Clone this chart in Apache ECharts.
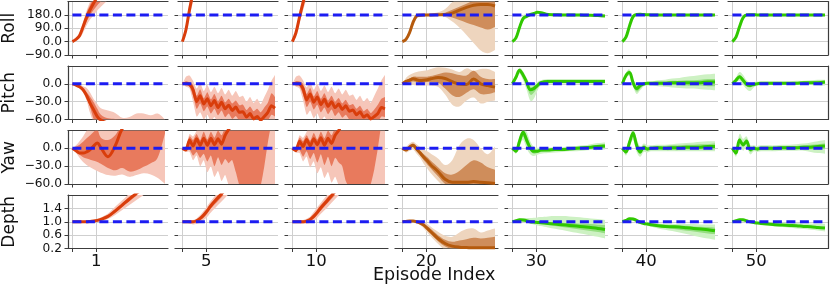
<!DOCTYPE html>
<html><head><meta charset="utf-8">
<script src="https://cdn.jsdelivr.net/npm/echarts@6/dist/echarts.min.js"></script>
<style>html,body{margin:0;padding:0;background:#fff}#c{width:830px;height:289px}</style>
</head><body><div id="c"></div>
<script>
// ---------- axes / categories ----------
const XS_C = [0,1.5,3,4.5,6,7.5,9,10.5,12,15,18,21,24,27,30,33,36,39];
const XS_F = [0,1.5,3,4.5,6,7.5,9,10.5,12,13.5,15,16.5,18,19.5,21,22.5,24,25.5,27,28.5,30,31.5,33,34.5,36,37.5,39];
const X_TICKS = [0, 10];
const EPISODES = ['1','5','10','20','30','40','50'];
const ROWS = ['Roll','Pitch','Yaw','Depth'];
const Y_RANGES = [[-90,270],[-60,30],[-60,30],[0.2,1.8]];
const Y_STEP = [90,30,30,0.4];
const Y_TICKS = [[-90,0,90,180],[-60,-30,0],[-60,-30,0],[0.2,0.6,1.0,1.4]];
const REFS = [180, 0, 0, 1.0];
const COL_KIND = ['red','red','red','brown','green','green','green'];

// ---------- Roll ----------
const roll_1_mean=[0,15,40,100,165,215,260,300,340,400,500,500,500,500,500,500,500,500];
const roll_1_il=[0,10,32,80,135,180,215,245,270,320,400,500,500,500,500,500,500,500];
const roll_1_ih=[0,18,52,120,195,250,295,340,380,500,500,500,500,500,500,500,500,500];
const roll_1_ol=[0,6,22,60,110,150,180,210,235,280,330,400,500,500,500,500,500,500];
const roll_1_oh=[0,22,62,135,210,270,320,380,420,500,500,500,500,500,500,500,500,500];
const roll_2_mean=[0,80,215,330,430,520,600,600,600,600,600,600,600,600,600,600,600,600];
const roll_2_il=[0,65,190,300,400,500,600,600,600,600,600,600,600,600,600,600,600,600];
const roll_2_ih=[0,95,240,360,460,600,600,600,600,600,600,600,600,600,600,600,600,600];
const roll_2_ol=[0,50,165,270,370,460,600,600,600,600,600,600,600,600,600,600,600,600];
const roll_2_oh=[0,110,265,390,490,600,600,600,600,600,600,600,600,600,600,600,600,600];
const roll_3_mean=[0,60,165,262,350,440,520,600,600,600,600,600,600,600,600,600,600,600];
const roll_3_il=[0,48,145,235,320,400,480,600,600,600,600,600,600,600,600,600,600,600];
const roll_3_ih=[0,72,185,290,380,480,600,600,600,600,600,600,600,600,600,600,600,600];
const roll_3_ol=[0,38,125,210,290,370,450,600,600,600,600,600,600,600,600,600,600,600];
const roll_3_oh=[0,85,205,320,410,520,600,600,600,600,600,600,600,600,600,600,600,600];
const roll_4_mean=[0,15,60,130,172,178,180,180,180,181,182,192,212,230,245,250,250,240];
const roll_4_il=[0,10,50,118,164,173,176,177,177,177,176,162,145,127,112,95,82,99];
const roll_4_ih=[0,20,70,142,180,183,184,184,184,186,195,215,235,255,275,290,290,285];
const roll_4_ol=[0,5,40,105,155,166,170,171,172,172,165,135,95,45,-10,-60,-78,-57];
const roll_4_oh=[0,25,80,155,188,188,188,189,190,198,220,265,290,300,300,300,300,300];
const roll_5_mean=[0,25,95,155,170,182,189,197,195,182,181,180,180,179,178,177,175,173];
const roll_5_il=[0,18,85,145,164,177,184,192,190,178,177,176,176,175,174,173,171,169];
const roll_5_ih=[0,32,105,165,176,187,194,202,200,186,185,184,184,183,182,181,179,177];
const roll_5_ol=[0,12,75,135,158,172,180,188,186,174,173,172,172,171,170,169,166,164];
const roll_5_oh=[0,40,115,175,182,192,198,206,204,190,189,188,188,187,186,185,184,182];
const roll_6_mean=[0,30,105,168,183,184,182,181,180,180,180,180,180,180,180,180,180,179];
const roll_6_il=[0,22,95,160,179,180,179,178,177,177,177,177,177,177,177,177,177,176];
const roll_6_ih=[0,38,115,176,187,188,185,184,183,183,183,183,183,183,183,183,183,182];
const roll_6_ol=[0,15,85,150,175,177,176,175,174,174,174,174,174,174,174,174,174,173];
const roll_6_oh=[0,45,125,184,191,191,188,187,186,186,186,186,186,186,186,186,186,185];
const roll_7_mean=[0,30,100,160,180,181,181,180,180,180,180,180,180,180,180,180,180,180];
const roll_7_il=[0,23,90,152,176,178,178,177,177,177,177,177,177,177,177,177,177,177];
const roll_7_ih=[0,37,110,168,184,184,184,183,183,183,183,183,183,183,183,183,183,183];
const roll_7_ol=[0,16,80,144,172,175,175,174,174,174,174,174,174,174,174,174,174,174];
const roll_7_oh=[0,44,120,176,188,187,187,186,186,186,186,186,186,186,186,186,186,186];

// ---------- Pitch ----------
const pitch_1_mean=[0,-2,-5,-10,-20,-33,-44,-55,-61,-66,-68,-70,-70,-70,-70,-70,-70,-70];
const pitch_1_il=[0,-3,-6,-11,-22,-40,-60,-68,-70,-70,-70,-70,-70,-70,-70,-70,-70,-70];
const pitch_1_ih=[0,-1,-3,-9,-14,-22,-31,-42,-52,-58,-59,-61,-64,-64,-64,-64,-64,-64];
const pitch_1_ol=[0,-4,-7,-14,-28,-50,-65,-70,-70,-70,-70,-70,-70,-70,-70,-70,-70,-70];
const pitch_1_oh=[0,0,-1,-4,-7,-15,-26,-34,-41,-45,-49,-57,-56,-50,-50,-53,-50,-60];
const pitch_2_mean=[0,1,-1,-10,-30,-20,-34,-25,-37,-28,-40,-31,-42,-36,-45,-39,-48,-47,-56,-50,-59,-55,-61,-55,-48,-37,-41];
const pitch_2_il=[0,-3,-5,-20,-42,-33,-46,-38,-50,-42,-53,-45,-56,-50,-59,-54,-62,-62,-70,-66,-72,-70,-75,-70,-62,-52,-55];
const pitch_2_ih=[0,4,3,-2,-20,-9,-24,-14,-26,-17,-29,-20,-31,-25,-33,-28,-36,-35,-44,-38,-46,-42,-48,-40,-32,-16,-22];
const pitch_2_ol=[0,-5,-8,-30,-55,-48,-60,-52,-63,-56,-66,-60,-70,-70,-70,-70,-70,-70,-70,-70,-70,-70,-70,-70,-70,-70,-70];
const pitch_2_oh=[0,12,14,5,-8,2,-12,-2,-14,-5,-16,-7,-18,-10,-20,-12,-22,-20,-30,-22,-32,-25,-34,-22,-10,5,15];
const pitch_3_mean=[0,1,0,-8,-27,-17,-31,-22,-35,-26,-38,-30,-40,-34,-43,-37,-46,-44,-52,-47,-56,-52,-59,-55,-50,-40,-42];
const pitch_3_il=[0,-3,-4,-18,-39,-30,-43,-35,-48,-40,-51,-43,-54,-48,-57,-52,-60,-60,-66,-62,-70,-68,-72,-70,-64,-55,-56];
const pitch_3_ih=[0,4,4,0,-17,-7,-21,-12,-25,-16,-28,-20,-30,-24,-33,-27,-36,-34,-42,-37,-46,-42,-49,-43,-35,-25,-22];
const pitch_3_ol=[0,-5,-8,-28,-52,-45,-58,-50,-62,-55,-65,-58,-70,-70,-70,-70,-70,-70,-70,-70,-70,-70,-70,-70,-70,-70,-70];
const pitch_3_oh=[0,12,14,6,-6,4,-10,0,-12,-3,-14,-5,-16,-8,-18,-10,-20,-18,-27,-20,-30,-24,-32,-20,-8,6,15];
const pitch_4_mean=[0,4,6,8.5,7,5.5,6,7,8.5,10.5,9,3.5,-0.5,-1,8,0,-3,-5.5];
const pitch_4_il=[0,2,3,4,3,2,2,3,3,2,-8,-19,-22,-15,-9,-17,-17,-14];
const pitch_4_ih=[0,6,9,12,12,12,12,12,13,16,19,18,15,14,22,12,8,8];
const pitch_4_ol=[0,-1,-1,-2,-3,-3,-3,-3,-3,-5,-18,-35,-38,-28,-23,-33,-30,-28];
const pitch_4_oh=[0,10,15,18,20,21,22,23,25,28,27,24,20,26,22,25,25,20];
const pitch_5_mean=[0,11,23,15,3,-10,-8,-3,2,4,4,4,4,4,4,4,4,4];
const pitch_5_il=[0,9,20,11,-3,-18,-15,-7,0,2,2,2,2,2,2,2,2,2];
const pitch_5_ih=[0,13,25,18,7,-5,-4,0,4,6,6,6,6,6,6,6,6,6];
const pitch_5_ol=[0,7,17,6,-10,-28,-25,-12,-3,0,0,0,0,0,0,0,0,0];
const pitch_5_oh=[0,15,27,21,10,-1,0,3,6,8,8,8,8,8,8,8,8,8];
const pitch_6_mean=[0,14,19,2,-8,-3,0,1,1,1,1,2,2,2,2,2,3,3];
const pitch_6_il=[0,11,16,-2,-13,-8,-2,-1,-1,-1,-2,-2,-2,-3,-3,-3,-4,-4];
const pitch_6_ih=[0,16,22,6,-4,0,2,3,3,4,4,5,5,6,6,7,8,8];
const pitch_6_ol=[0,9,13,-5,-17,-11,-4,-3,-3,-4,-5,-6,-7,-8,-8,-9,-10,-11];
const pitch_6_oh=[0,18,24,9,-1,3,3,4,4,6,7,9,10,12,13,15,16,17];
const pitch_7_mean=[0,6,12,6,-1,-3,-1,0,1,1,1,1,1,1,2,2,2,3];
const pitch_7_il=[0,4,9,2,-4,-6,-3,-1,-1,-1,-1,-1,-1,-1,0,0,0,0];
const pitch_7_ih=[0,8,15,10,2,-1,1,2,3,3,3,3,3,3,4,4,5,5];
const pitch_7_ol=[0,2,5,-2,-9,-12,-6,-3,-2,-2,-2,-2,-2,-2,-2,-2,-3,-3];
const pitch_7_oh=[0,11,20,15,6,2,3,4,4,4,4,4,4,5,5,6,7,7];

// ---------- Yaw ----------
const yaw_1_mean=[0,-4,-8,-8,-6,-2,4,9,1,-14,4,33,45,45,45,45,45,45];
const yaw_1_il=[0,-5,-11,-15,-17,-19,-21,-23,-26,-33,-37,-33,-39,-37,-31,-25,-15,25];
const yaw_1_ih=[0,3,6,11,17,22,28,32,18,14,22,40,40,40,40,40,40,40];
const yaw_1_ol=[0,-7,-16,-23,-28,-32,-35,-38,-41,-45,-46,-44,-48,-45,-42,-44,-50,-60];
const yaw_1_oh=[0,5,12,20,30,40,40,40,40,40,40,40,40,40,40,40,40,40];
const yaw_2_mean=[0,-3,14,4,16,5,17,5,17,6,16,7,22,32,40,40,40,40,40,40,40,40,40,40,40,40,40];
const yaw_2_il=[0,-4,-2,-12,-6,-16,-9,-22,-12,-30,-15,-28,-18,-25,-20,-40,-62,-65,-65,-65,-65,-65,-62,-30,10,40,40];
const yaw_2_ih=[0,2,20,14,24,14,28,15,28,18,30,22,35,45,45,45,45,45,45,45,45,45,45,45,45,45,45];
const yaw_2_ol=[0,-6,-6,-20,-12,-30,-20,-40,-30,-48,-38,-55,-45,-62,-70,-70,-70,-70,-70,-70,-70,-70,-70,-70,-70,-70,-70];
const yaw_2_oh=[0,4,24,20,30,45,45,45,45,45,45,45,45,45,45,45,45,45,45,45,45,45,45,45,45,45,45];
const yaw_3_mean=[0,-4,12,3,15,4,16,6,18,5,17,8,22,30,40,40,40,40,40,40,40,40,40,40,40,40,40];
const yaw_3_il=[0,-5,-3,-14,-5,-18,-8,-24,-10,-28,-14,-30,-16,-24,-30,-55,-65,-65,-65,-65,-65,-65,-60,-35,0,40,40];
const yaw_3_ih=[0,2,18,12,22,13,26,15,28,17,30,22,35,45,45,45,45,45,45,45,45,45,45,45,45,45,45];
const yaw_3_ol=[0,-7,-8,-22,-14,-32,-22,-42,-32,-50,-40,-58,-48,-62,-70,-70,-70,-70,-70,-70,-70,-70,-70,-70,-70,-70,-70];
const yaw_3_oh=[0,4,22,18,28,45,45,45,45,45,45,45,45,45,45,45,45,45,45,45,45,45,45,45,45,45,45];
const yaw_4_mean=[0,-3,2,5,-1,-8,-15,-21,-28,-39,-52,-57,-57,-57,-56,-57,-58,-59];
const yaw_4_il=[0,-5,-1,2,-5,-12,-20,-27,-34,-47,-60,-66,-68,-68,-68,-68,-68,-68];
const yaw_4_ih=[0,-1,5,8,3,-4,-10,-15,-21,-32,-42,-44,-38,-28,-20,-24,-32,-36];
const yaw_4_ol=[0,-7,-4,-2,-9,-16,-26,-34,-42,-55,-66,-70,-70,-70,-70,-70,-70,-70];
const yaw_4_oh=[0,2,8,11,7,2,-2,-5,-9,-17,-28,-20,5,16,14,0,-10,3];
const yaw_5_mean=[0,-5,12,27,14,1,-5,-5,-3,-3,-2,-2,-1,0,1,2,3,4];
const yaw_5_il=[0,-7,8,20,6,-4,-9,-8,-6,-5,-4,-4,-3,-3,-2,-1,0,0];
const yaw_5_ih=[0,-3,16,30,22,6,-1,-2,-1,-1,0,0,1,2,3,4,6,7];
const yaw_5_ol=[0,-9,4,14,0,-10,-13,-11,-9,-8,-7,-6,-5,-5,-4,-3,-3,-2];
const yaw_5_oh=[0,-1,20,33,28,12,3,1,1,1,2,2,3,4,5,7,9,10];
const yaw_6_mean=[0,-6,10,26,5,-6,2,-1,0,1,0,1,1,2,2,2,3,3];
const yaw_6_il=[0,-9,6,20,-1,-10,-2,-4,-3,-2,-3,-3,-3,-2,-2,-2,-2,-2];
const yaw_6_ih=[0,-3,14,30,11,-1,5,2,3,4,4,5,5,6,6,7,7,8];
const yaw_6_ol=[0,-12,2,14,-6,-14,-6,-7,-5,-5,-5,-5,-5,-5,-5,-5,-5,-5];
const yaw_6_oh=[0,0,18,33,16,3,8,5,5,6,6,7,8,9,10,11,12,12];
const yaw_7_mean=[0,-8,14,6,12,-2,0,-1,0,0,0,1,1,1,2,2,3,4];
const yaw_7_il=[0,-11,10,2,8,-6,-3,-4,-3,-3,-3,-2,-2,-2,-1,-2,-2,-1];
const yaw_7_ih=[0,-5,18,10,16,2,3,2,3,3,3,4,4,4,5,6,7,8];
const yaw_7_ol=[0,-14,4,-4,2,-10,-5,-6,-5,-5,-5,-4,-4,-4,-4,-6,-8,-9];
const yaw_7_oh=[0,-2,24,16,20,6,5,4,5,5,5,6,6,7,8,10,12,14];

// ---------- Depth ----------
const depth_1_mean=[1.0,1.0,1.0,1.0,1.0,1.01,1.02,1.04,1.07,1.16,1.32,1.5,1.68,1.85,2.0,2.2,2.4,2.6];
const depth_1_il=[1.0,1.0,1.0,1.0,1.0,1.0,1.01,1.02,1.05,1.13,1.27,1.44,1.61,1.78,1.93,2.1,2.3,2.5];
const depth_1_ih=[1.0,1.0,1.0,1.0,1.01,1.02,1.04,1.06,1.1,1.2,1.38,1.56,1.75,1.92,2.1,2.3,2.5,2.7];
const depth_1_ol=[1.0,1.0,0.99,0.99,0.99,0.99,0.99,1.0,1.02,1.08,1.2,1.35,1.5,1.65,1.8,1.95,2.1,2.3];
const depth_1_oh=[1.0,1.0,1.01,1.02,1.03,1.04,1.06,1.09,1.13,1.25,1.45,1.64,1.84,2.0,2.2,2.4,2.6,2.8];
const depth_2_mean=[1.0,1.0,1.0,1.0,1.03,1.1,1.2,1.33,1.48,1.72,1.95,2.15,2.3,2.5,2.5,2.5,2.5,2.5];
const depth_2_il=[1.0,0.99,0.98,0.97,0.99,1.05,1.13,1.25,1.4,1.62,1.85,2.05,2.2,2.4,2.4,2.4,2.4,2.4];
const depth_2_ih=[1.0,1.01,1.02,1.03,1.07,1.15,1.27,1.4,1.55,1.8,2.0,2.2,2.4,2.6,2.6,2.6,2.6,2.6];
const depth_2_ol=[1.0,0.98,0.95,0.92,0.94,0.98,1.05,1.15,1.28,1.5,1.72,1.92,2.1,2.3,2.3,2.3,2.3,2.3];
const depth_2_oh=[1.0,1.02,1.03,1.05,1.1,1.2,1.33,1.47,1.62,1.88,2.1,2.3,2.5,2.7,2.7,2.7,2.7,2.7];
const depth_3_mean=[1.0,1.0,1.0,1.0,1.02,1.07,1.16,1.28,1.42,1.66,1.9,2.1,2.3,2.5,2.5,2.5,2.5,2.5];
const depth_3_il=[1.0,0.99,0.98,0.98,0.99,1.03,1.1,1.21,1.34,1.57,1.8,2.0,2.2,2.4,2.4,2.4,2.4,2.4];
const depth_3_ih=[1.0,1.01,1.02,1.03,1.06,1.12,1.23,1.36,1.5,1.75,1.98,2.2,2.4,2.6,2.6,2.6,2.6,2.6];
const depth_3_ol=[1.0,0.98,0.96,0.94,0.95,0.97,1.02,1.12,1.24,1.45,1.68,1.9,2.1,2.3,2.3,2.3,2.3,2.3];
const depth_3_oh=[1.0,1.02,1.04,1.05,1.09,1.16,1.29,1.43,1.57,1.83,2.05,2.3,2.5,2.7,2.7,2.7,2.7,2.7];
const depth_4_mean=[1.0,1.01,1.02,1.02,1.0,0.96,0.9,0.8,0.7,0.5,0.35,0.27,0.24,0.23,0.22,0.22,0.22,0.22];
const depth_4_il=[1.0,1.0,1.01,1.01,0.98,0.93,0.85,0.74,0.63,0.42,0.26,0.18,0.15,0.14,0.14,0.14,0.14,0.14];
const depth_4_ih=[1.0,1.02,1.03,1.03,1.02,0.99,0.95,0.87,0.78,0.6,0.46,0.4,0.44,0.48,0.52,0.5,0.52,0.55];
const depth_4_ol=[1.0,0.99,0.99,0.99,0.96,0.9,0.8,0.68,0.56,0.34,0.15,0.1,0.1,0.1,0.1,0.1,0.1,0.1];
const depth_4_oh=[1.0,1.03,1.05,1.05,1.04,1.02,0.99,0.93,0.85,0.7,0.58,0.55,0.68,0.78,0.8,0.68,0.74,0.8];
const depth_5_mean=[1.0,1.03,1.06,1.05,1.03,1.0,0.99,0.98,0.97,0.95,0.93,0.91,0.89,0.87,0.85,0.83,0.8,0.77];
const depth_5_il=[1.0,1.02,1.04,1.03,1.01,0.98,0.96,0.94,0.93,0.9,0.87,0.84,0.81,0.78,0.75,0.72,0.69,0.65];
const depth_5_ih=[1.0,1.04,1.08,1.07,1.05,1.03,1.02,1.01,1.0,0.99,0.98,0.97,0.96,0.95,0.94,0.93,0.91,0.9];
const depth_5_ol=[1.0,1.01,1.02,1.0,0.98,0.95,0.92,0.89,0.87,0.83,0.79,0.75,0.71,0.67,0.63,0.59,0.55,0.5];
const depth_5_oh=[1.0,1.05,1.1,1.11,1.11,1.11,1.12,1.13,1.14,1.16,1.17,1.17,1.16,1.14,1.12,1.1,1.08,1.05];
const depth_6_mean=[1.0,1.04,1.09,1.08,1.04,0.98,0.95,0.93,0.91,0.88,0.86,0.85,0.84,0.82,0.8,0.78,0.76,0.73];
const depth_6_il=[1.0,1.03,1.07,1.06,1.01,0.96,0.93,0.9,0.88,0.84,0.81,0.79,0.76,0.73,0.71,0.68,0.65,0.63];
const depth_6_ih=[1.0,1.05,1.11,1.1,1.06,1.0,0.98,0.96,0.95,0.92,0.91,0.9,0.89,0.88,0.86,0.85,0.84,0.82];
const depth_6_ol=[1.0,1.02,1.05,1.03,0.98,0.93,0.9,0.87,0.85,0.8,0.76,0.72,0.68,0.63,0.58,0.54,0.5,0.46];
const depth_6_oh=[1.0,1.06,1.12,1.12,1.08,1.02,1.0,0.98,0.97,0.95,0.94,0.94,0.93,0.93,0.93,0.92,0.92,0.92];
const depth_7_mean=[1.0,1.03,1.06,1.06,1.03,1.0,0.98,0.96,0.95,0.93,0.91,0.9,0.89,0.88,0.86,0.85,0.83,0.81];
const depth_7_il=[1.0,1.02,1.05,1.05,1.02,0.99,0.97,0.95,0.94,0.91,0.89,0.88,0.87,0.86,0.84,0.82,0.8,0.78];
const depth_7_ih=[1.0,1.04,1.07,1.07,1.04,1.01,0.99,0.97,0.96,0.95,0.93,0.92,0.91,0.9,0.89,0.88,0.86,0.84];
const depth_7_ol=[1.0,1.01,1.03,1.03,1.0,0.97,0.95,0.93,0.91,0.88,0.86,0.84,0.82,0.8,0.78,0.76,0.74,0.71];
const depth_7_oh=[1.0,1.05,1.1,1.09,1.06,1.03,1.01,1.0,0.99,0.98,0.97,0.97,0.96,0.96,0.95,0.95,0.94,0.94];

// ---------- assemble (mean, inner lo, inner hi, outer lo, outer hi) ----------
const PANELS = [
  [[roll_1_mean,roll_1_il,roll_1_ih,roll_1_ol,roll_1_oh],[roll_2_mean,roll_2_il,roll_2_ih,roll_2_ol,roll_2_oh],[roll_3_mean,roll_3_il,roll_3_ih,roll_3_ol,roll_3_oh],[roll_4_mean,roll_4_il,roll_4_ih,roll_4_ol,roll_4_oh],[roll_5_mean,roll_5_il,roll_5_ih,roll_5_ol,roll_5_oh],[roll_6_mean,roll_6_il,roll_6_ih,roll_6_ol,roll_6_oh],[roll_7_mean,roll_7_il,roll_7_ih,roll_7_ol,roll_7_oh]],
  [[pitch_1_mean,pitch_1_il,pitch_1_ih,pitch_1_ol,pitch_1_oh],[pitch_2_mean,pitch_2_il,pitch_2_ih,pitch_2_ol,pitch_2_oh],[pitch_3_mean,pitch_3_il,pitch_3_ih,pitch_3_ol,pitch_3_oh],[pitch_4_mean,pitch_4_il,pitch_4_ih,pitch_4_ol,pitch_4_oh],[pitch_5_mean,pitch_5_il,pitch_5_ih,pitch_5_ol,pitch_5_oh],[pitch_6_mean,pitch_6_il,pitch_6_ih,pitch_6_ol,pitch_6_oh],[pitch_7_mean,pitch_7_il,pitch_7_ih,pitch_7_ol,pitch_7_oh]],
  [[yaw_1_mean,yaw_1_il,yaw_1_ih,yaw_1_ol,yaw_1_oh],[yaw_2_mean,yaw_2_il,yaw_2_ih,yaw_2_ol,yaw_2_oh],[yaw_3_mean,yaw_3_il,yaw_3_ih,yaw_3_ol,yaw_3_oh],[yaw_4_mean,yaw_4_il,yaw_4_ih,yaw_4_ol,yaw_4_oh],[yaw_5_mean,yaw_5_il,yaw_5_ih,yaw_5_ol,yaw_5_oh],[yaw_6_mean,yaw_6_il,yaw_6_ih,yaw_6_ol,yaw_6_oh],[yaw_7_mean,yaw_7_il,yaw_7_ih,yaw_7_ol,yaw_7_oh]],
  [[depth_1_mean,depth_1_il,depth_1_ih,depth_1_ol,depth_1_oh],[depth_2_mean,depth_2_il,depth_2_ih,depth_2_ol,depth_2_oh],[depth_3_mean,depth_3_il,depth_3_ih,depth_3_ol,depth_3_oh],[depth_4_mean,depth_4_il,depth_4_ih,depth_4_ol,depth_4_oh],[depth_5_mean,depth_5_il,depth_5_ih,depth_5_ol,depth_5_oh],[depth_6_mean,depth_6_il,depth_6_ih,depth_6_ol,depth_6_oh],[depth_7_mean,depth_7_il,depth_7_ih,depth_7_ol,depth_7_oh]]
];

// ---------- styling ----------
const FONT = 'DejaVu Sans';
const TEXT = '#111';
const SPINE = '#3c3c3c';
const GRIDC = '#cfcfcf';
const BLUE = '#1c1cf2';
const COLORS = {
  red:   {line:'#d93d0b', inner:'#e87a5d', outer:'#f6c6b9'},
  brown: {line:'#b55a0d', inner:'#cf8d5b', outer:'#eed5be'},
  green: {line:'#30c800', inner:'#95de80', outer:'#cdf1c3'}
};
const L0 = 68, COLW = 100, COLSTEP = 110, T0 = 1.5, ROWH = 53.5, ROWSTEP = 64.5;
const XMIN = -1.85, XMAX = 40.27;
const fmtY = v => { const s = (+v).toFixed(1); return s.charAt(0) === '-' ? '\u2212' + s.slice(1) : s; };

// smooth cubic segments through pixel points (used for band outlines)
function curveSegs(p, t) {
  let s = '';
  for (let i = 0; i < p.length - 1; i++) {
    const p0 = p[Math.max(i - 1, 0)], p1 = p[i], p2 = p[i + 1], p3 = p[Math.min(i + 2, p.length - 1)];
    const c1x = p1[0] + (p2[0] - p0[0]) * t, c1y = p1[1] + (p2[1] - p0[1]) * t;
    const c2x = p2[0] - (p3[0] - p1[0]) * t, c2y = p2[1] - (p3[1] - p1[1]) * t;
    s += ' C' + c1x.toFixed(2) + ',' + c1y.toFixed(2) + ' ' + c2x.toFixed(2) + ',' + c2y.toFixed(2) + ' ' + p2[0].toFixed(2) + ',' + p2[1].toFixed(2);
  }
  return s;
}
function bandSeries(g, xs, lo, hi, color, t, z) {
  return {
    type: 'custom', xAxisIndex: g, yAxisIndex: g, silent: true, animation: false, clip: true, z: z,
    data: [[xs[0], lo[0]]],
    renderItem: (params, api) => {
      const top = xs.map((x, i) => api.coord([x, hi[i]]));
      const bot = xs.map((x, i) => api.coord([x, lo[i]])).reverse();
      const d = 'M' + top[0][0] + ',' + top[0][1] + curveSegs(top, t) +
                ' L' + bot[0][0] + ',' + bot[0][1] + curveSegs(bot, t) + ' Z';
      const cs = params.coordSys;
      return {
        type: 'group',
        clipPath: {type: 'rect', shape: {x: cs.x, y: cs.y, width: cs.width, height: cs.height}},
        children: [{type: 'path', shape: {pathData: d}, style: {fill: color, stroke: null}}]
      };
    }
  };
}

const grids = [], xBottom = [], xTop = [], yLeft = [], yRight = [], series = [];
for (let r = 0; r < 4; r++) {
  for (let c = 0; c < 7; c++) {
    const g = r * 7 + c;
    grids.push({left: L0 + COLSTEP * c, top: T0 + ROWSTEP * r, width: COLW, height: ROWH});
    xBottom.push({
      gridIndex: g, type: 'value', min: XMIN, max: XMAX, position: 'bottom',
      axisLine: {show: true, onZero: false, lineStyle: {color: SPINE, width: 1.2}},
      axisTick: {show: true, customValues: X_TICKS, length: 3.5, lineStyle: {color: SPINE, width: 1}},
      axisLabel: {show: r === 3, customValues: [10], formatter: () => EPISODES[c],
                  fontSize: 16.5, margin: 5, color: TEXT, fontFamily: FONT},
      splitLine: {show: true, lineStyle: {color: GRIDC, width: 1}}
    });
    xTop.push({
      gridIndex: g, type: 'value', min: XMIN, max: XMAX, position: 'top',
      axisLine: {show: true, onZero: false, lineStyle: {color: SPINE, width: 1.2}},
      axisTick: {show: false}, axisLabel: {show: false}, splitLine: {show: false}
    });
    yLeft.push({
      gridIndex: g, type: 'value', min: Y_RANGES[r][0], max: Y_RANGES[r][1], interval: Y_STEP[r],
      position: 'left',
      name: c === 0 ? ROWS[r] : '', nameLocation: 'middle', nameGap: 50,
      nameTextStyle: {fontSize: 17, color: TEXT, fontFamily: FONT},
      axisLine: {show: c === 0, onZero: false, lineStyle: {color: SPINE, width: 1.2}},
      axisTick: {show: true, customValues: Y_TICKS[r], length: 3.5, lineStyle: {color: SPINE, width: 1}},
      axisLabel: {show: c === 0, customValues: Y_TICKS[r], formatter: fmtY, fontSize: 12.2, margin: 6,
                  color: TEXT, fontFamily: FONT},
      splitLine: {show: true, lineStyle: {color: GRIDC, width: 1}}
    });
    if (c === 6) {
      yRight.push({
        gridIndex: g, type: 'value', min: Y_RANGES[r][0], max: Y_RANGES[r][1], position: 'right',
        axisLine: {show: true, onZero: false, lineStyle: {color: SPINE, width: 1.2}},
        axisTick: {show: false}, axisLabel: {show: false}, splitLine: {show: false}
      });
    }
    const fine = (r === 1 || r === 2) && (c === 1 || c === 2);
    const xs = fine ? XS_F : XS_C;
    const [m, il, ih, ol, oh] = PANELS[r][c];
    const col = COLORS[COL_KIND[c]];
    const sm = fine ? 0.2 : 0.35;
    series.push(bandSeries(g, xs, ol, oh, col.outer, sm / 2, 1));
    series.push(bandSeries(g, xs, il, ih, col.inner, sm / 2, 2));
    series.push({type: 'line', xAxisIndex: g, yAxisIndex: g, symbol: 'none', smooth: sm, silent: true,
      animation: false, clip: true, data: xs.map((x, i) => [x, m[i]]),
      lineStyle: {color: col.line, width: 3}, z: 3});
    series.push({type: 'line', xAxisIndex: g, yAxisIndex: g, symbol: 'none', silent: true,
      animation: false, clip: true, data: [[xs[0], REFS[r]], [xs[xs.length - 1], REFS[r]]],
      lineStyle: {color: BLUE, width: 3, type: [9, 4.5]}, z: 4});
  }
}

const chart = echarts.init(document.getElementById('c'), null, {renderer: 'canvas'});
chart.setOption({
  animation: false,
  backgroundColor: '#fff',
  textStyle: {fontFamily: FONT},
  title: {text: 'Episode Index', left: 373, top: 266, padding: 0,
          textStyle: {fontSize: 17.5, fontWeight: 'normal', color: TEXT, fontFamily: FONT}},
  grid: grids,
  xAxis: xBottom.concat(xTop),
  yAxis: yLeft.concat(yRight),
  series: series
});
</script>
</body></html>
